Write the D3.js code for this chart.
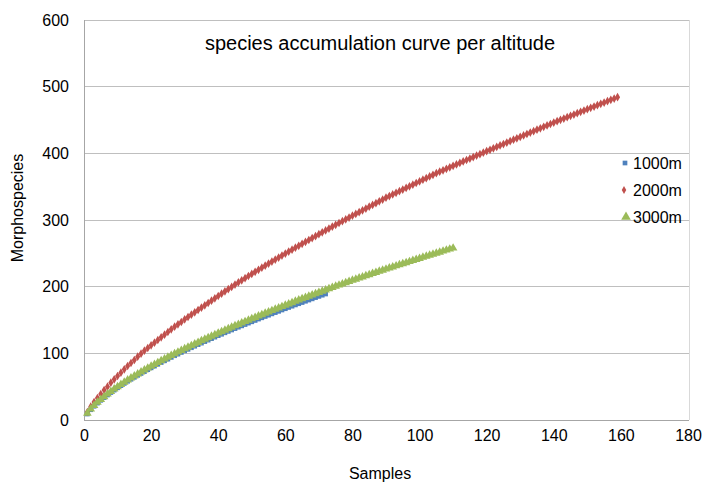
<!DOCTYPE html>
<html><head><meta charset="utf-8">
<script src="https://cdn.jsdelivr.net/npm/d3@7"></script>
<style>body{margin:0;background:#fff}svg{display:block}text{font-family:Arial,"Liberation Sans",sans-serif;fill:#000}</style>
</head><body><svg id="c" width="703" height="482"></svg>
<script>
const seriesNames = ["1000m", "2000m", "3000m"];
const xTicks = [0,20,40,60,80,100,120,140,160,180];
const yTicks = [0,100,200,300,400,500,600];
// species counts per sample index (samples 1..n)
const v1000 = [9,15.4,20.6,25.3,29.5,33.6,37.5,41.2,44.8,48.3,51.6,54.9,58.1,61.1,64.0,67.0,69.8,72.6,75.5,78.2,80.9,83.6,86.2,88.8,91.3,93.9,96.4,98.8,101.3,103.7,106.0,108.4,110.7,113.0,115.3,117.6,119.8,122.0,124.3,126.5,128.6,130.8,132.9,135.0,137.1,139.2,141.2,143.2,145.3,147.3,149.3,151.4,153.3,155.3,157.2,159.2,161.1,163.0,165.0,166.9,168.8,170.7,172.6,174.4,176.2,178.1,179.9,181.7,183.6,185.4,187.2,189.0];
const v2000 = [12,20,27,33,39,45,50,56,61,66,71,76,81,85.5,90,95,99.5,104,108,112,116,120,124,128,132,136,140,143.5,147,151,154.5,158,161.5,165,168.5,172,175.5,179,182.5,186,189.5,193,196.3,199.6,203.2,206.4,209.6,212.8,216,219.1,222.2,225.3,228.4,231.5,234.6,237.6,240.6,243.6,246.6,249.6,252.6,255.5,258.4,261.3,264.2,267.1,270,272.9,275.8,278.7,281.5,284.3,287.1,289.9,292.7,295.5,298.3,301.0,303.7,306.4,309.1,311.8,314.5,317.2,319.9,322.6,325.3,328.0,330.7,333.4,335.9,338.3,340.8,343.2,345.7,348.1,350.6,353.0,355.5,357.9,360.4,362.8,365.3,367.7,370.2,372.4,374.6,376.8,379.0,381.2,383.4,385.6,387.8,390.0,392.2,394.4,396.6,398.8,401.0,403.2,405.3,407.5,409.6,411.8,413.9,416.1,418.2,420.4,422.5,424.7,426.8,429.0,431.1,433.3,435.4,437.6,439.7,441.9,444.0,446.2,448.2,450.2,452.2,454.2,456.2,458.2,460.2,462.2,464.2,466.2,468.2,470.2,472.2,474.2,476.2,478.2,480.2,482.2,484.2];
const v3000 = [10,16.5,21.8,26.6,30.9,35.0,39.0,42.8,46.4,50.0,53.4,56.7,60.0,63.1,66.1,69.1,72.0,74.9,77.8,80.6,83.4,86.1,88.8,91.5,94.1,96.7,99.3,101.8,104.3,106.8,109.2,111.6,114.0,116.4,118.8,121.1,123.4,125.7,128.0,130.3,132.5,134.7,136.9,139.1,141.3,143.4,145.5,147.6,149.7,151.8,153.9,156.0,158.0,160.1,162.1,164.1,166.1,168.1,170.1,172.1,174.1,176.0,178.0,179.9,181.8,183.7,185.6,187.5,189.4,191.3,193.2,195.0,196.9,198.7,200.5,202.3,204.1,205.9,207.7,209.5,211.2,212.9,214.6,216.3,218.0,219.7,221.4,223.0,224.7,226.3,228.0,229.6,231.2,232.8,234.4,236.0,237.6,239.2,240.8,242.4,244.0,245.5,247.1,248.6,250.2,251.7,253.3,254.8,256.3,257.8];
const colors = ["#4F81BD", "#C0504D", "#9BBB59"];

const svg = d3.select("#c");
const L = 84, R = 688, T = 20, B = 420;
const x = d3.scaleLinear().domain([0,180]).range([L,R]);
const y = d3.scaleLinear().domain([0,600]).range([B,T]);

// gridlines
svg.append("g").selectAll("line").data(yTicks.filter(d=>d>0)).join("line")
  .attr("x1",L).attr("x2",R+1).attr("y1",d=>y(d)).attr("y2",d=>y(d))
  .attr("stroke","#BFBFBF").attr("stroke-width",1).attr("shape-rendering","crispEdges");
// right border
svg.append("line").attr("x1",R+1).attr("x2",R+1).attr("y1",T).attr("y2",B)
  .attr("stroke","#D9D9D9").attr("shape-rendering","crispEdges");

// axes
const xa = svg.append("g").attr("transform",`translate(0,${B})`)
  .call(d3.axisBottom(x).tickValues(xTicks).tickSize(0).tickPadding(10));
const ya = svg.append("g").attr("transform",`translate(${L},0)`)
  .call(d3.axisLeft(y).tickValues(yTicks).tickSize(0).tickPadding(15));
[xa,ya].forEach(a=>{
  a.select(".domain").attr("stroke","#A6A6A6").attr("shape-rendering","crispEdges");
  a.selectAll("text").attr("font-size",16).attr("font-family",'Arial,"Liberation Sans",sans-serif');
});
svg.append("line").attr("x1",L).attr("x2",L).attr("y1",T).attr("y2",B+1).attr("stroke","#A6A6A6").attr("shape-rendering","crispEdges");

const sym = [d3.symbol().type(d3.symbolSquare).size(22),
             d3.symbol().type(d3.symbolDiamond).size(22),
             d3.symbol().type(d3.symbolTriangle).size(32)];
const all = [v1000, v2000, v3000];
all.forEach((arr,i)=>{
  svg.append("g").selectAll("path").data(arr).join("path")
    .attr("d",sym[i]())
    .attr("transform",(d,k)=>`translate(${x(k+1)},${y(d)})`)
    .attr("fill",colors[i]);
});

// title
svg.append("text").attr("x",380).attr("y",50).attr("text-anchor","middle")
  .attr("font-size",20).text("species accumulation curve per altitude");
// axis titles
svg.append("text").attr("x",380).attr("y",479).attr("text-anchor","middle")
  .attr("font-size",16).text("Samples");
svg.append("text").attr("transform","translate(23,208) rotate(-90)").attr("text-anchor","middle")
  .attr("font-size",16).text("Morphospecies");

// legend
const ly = [163,190,217];
seriesNames.forEach((n,i)=>{
  svg.append("path").attr("d",d3.symbol().type([d3.symbolSquare,d3.symbolDiamond,d3.symbolTriangle][i]).size([22,18,40][i])())
    .attr("transform",`translate(${[625,624,626][i]},${ly[i]})`).attr("fill",colors[i]);
  svg.append("text").attr("x",633).attr("y",ly[i]+6).attr("font-size",16).text(n);
});
</script></body></html>
